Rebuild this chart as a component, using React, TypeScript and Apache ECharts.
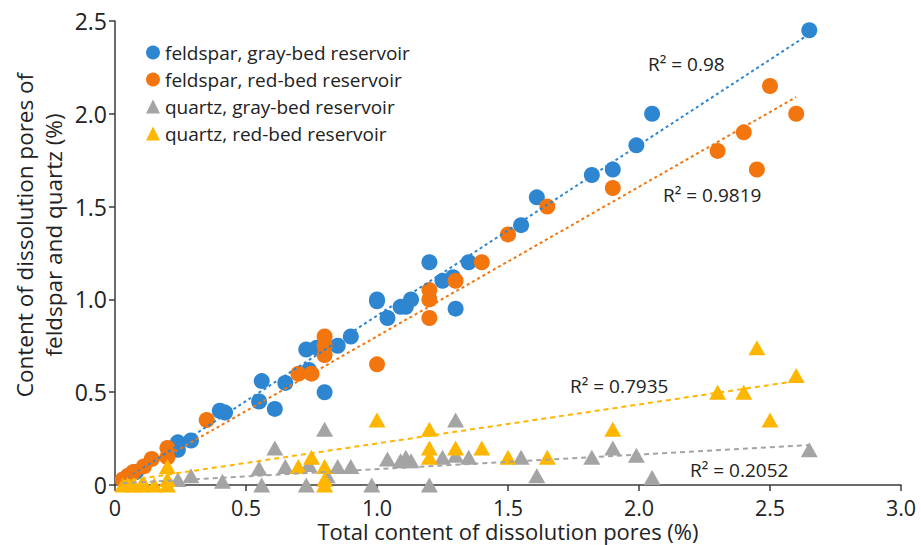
import React, { useEffect, useRef } from "react";
import * as echarts from "echarts";

const FONT = "'Open Sans', 'Noto Sans', sans-serif";

const seriesNames = [
  "feldspar, gray-bed reservoir",
  "feldspar, red-bed reservoir",
  "quartz, gray-bed reservoir",
  "quartz, red-bed reservoir",
];

const feldsparGray: number[][] = [
  [0.05, 0.04], [0.08, 0.07], [0.24, 0.19], [0.24, 0.23], [0.29, 0.24], [0.40, 0.40],
  [0.42, 0.39], [0.55, 0.45], [0.56, 0.56], [0.61, 0.41], [0.65, 0.55], [0.73, 0.73],
  [0.74, 0.62], [0.77, 0.74], [0.80, 0.50], [0.85, 0.75], [0.90, 0.80], [1.00, 1.00],
  [1.00, 0.99], [1.04, 0.90], [1.09, 0.96], [1.11, 0.96], [1.13, 1.00], [1.20, 1.20],
  [1.25, 1.10], [1.29, 1.12], [1.30, 0.95], [1.35, 1.20], [1.55, 1.40], [1.61, 1.55],
  [1.82, 1.67], [1.90, 1.70], [1.99, 1.83], [2.05, 2.00], [2.65, 2.45],
];

const feldsparRed: number[][] = [
  [0.03, 0.03], [0.05, 0.05], [0.07, 0.07], [0.11, 0.10], [0.14, 0.14], [0.20, 0.15],
  [0.20, 0.20], [0.35, 0.35], [0.70, 0.60], [0.75, 0.60], [0.80, 0.70], [0.80, 0.75],
  [0.80, 0.80], [1.00, 0.65], [1.20, 0.90], [1.20, 1.00], [1.20, 1.05], [1.30, 1.10],
  [1.40, 1.20], [1.50, 1.35], [1.65, 1.50], [1.90, 1.60], [2.30, 1.80], [2.40, 1.90],
  [2.45, 1.70], [2.50, 2.15], [2.60, 2.00],
];

const quartzGray: number[][] = [
  [0.24, 0.03], [0.29, 0.05], [0.41, 0.02], [0.55, 0.09], [0.56, 0.00], [0.61, 0.20],
  [0.65, 0.10], [0.73, 0.00], [0.74, 0.11], [0.80, 0.30], [0.81, 0.05], [0.85, 0.10],
  [0.90, 0.10], [0.98, 0.00], [1.04, 0.14], [1.09, 0.13], [1.11, 0.15], [1.13, 0.13],
  [1.20, 0.00], [1.25, 0.15], [1.30, 0.16], [1.30, 0.35], [1.35, 0.15], [1.55, 0.15],
  [1.61, 0.05], [1.82, 0.15], [1.90, 0.20], [1.99, 0.16], [2.05, 0.04], [2.65, 0.19],
];

const quartzRed: number[][] = [
  [0.03, 0.00], [0.05, 0.01], [0.07, 0.00], [0.10, 0.00], [0.11, 0.01], [0.15, 0.00],
  [0.20, 0.00], [0.20, 0.03], [0.20, 0.10], [0.70, 0.10], [0.75, 0.15], [0.80, 0.00],
  [0.80, 0.03], [0.80, 0.10], [1.00, 0.35], [1.20, 0.15], [1.20, 0.20], [1.20, 0.30],
  [1.30, 0.20], [1.40, 0.20], [1.50, 0.15], [1.65, 0.15], [1.90, 0.30], [2.30, 0.50],
  [2.40, 0.50], [2.45, 0.74], [2.50, 0.35], [2.60, 0.59],
];

// Trend-line end points
const feldsparGrayTrend: number[][] = [[0.03, 0.02], [2.65, 2.43]];
const feldsparRedTrend: number[][] = [[0.03, 0.02], [2.60, 2.09]];
const quartzGrayTrend: number[][] = [[0.03, 0.01], [2.65, 0.215]];
const quartzRedTrend: number[][] = [[0.03, 0.02], [2.60, 0.56]];

const r2Labels = ["R² = 0.98", "R² = 0.9819", "R² = 0.7935", "R² = 0.2052"];

const xTicks = [0, 0.5, 1.0, 1.5, 2.0, 2.5, 3.0];
const yTicks = [0, 0.5, 1.0, 1.5, 2.0, 2.5];

const COLORS = ["#2E86D1", "#F2750E", "#A4A4A4", "#FFB600"];

const fmt = (v: number) => (v === 0 ? "0" : v.toFixed(1));

export default function App() {
  const ref = useRef<HTMLDivElement>(null);
  useEffect(() => {
    if (!ref.current) return;
    const chart = echarts.init(ref.current, undefined, { renderer: "svg" });
    const axisColor = "#3a3a3a";
    const trend = (name: string, data: number[][], color: string, dash: number[]) => ({
      name,
      type: "line",
      data,
      symbol: "none",
      showSymbol: false,
      silent: true,
      z: 5,
      lineStyle: { color, width: 2, type: dash },
    });
    const option: any = {
      animation: false,
      backgroundColor: "#ffffff",
      grid: { left: 115, right: 20, top: 21, bottom: 60 },
      xAxis: {
        type: "value",
        min: xTicks[0],
        max: xTicks[xTicks.length - 1],
        interval: 0.5,
        axisLine: { show: true, lineStyle: { color: axisColor, width: 1.5 } },
        axisTick: { show: true, length: 6, lineStyle: { color: axisColor, width: 1.5 } },
        axisLabel: { fontSize: 21.5, lineHeight: 20, color: "#222", fontFamily: FONT, margin: 12, formatter: fmt },
        splitLine: { show: false },
      },
      yAxis: {
        type: "value",
        min: yTicks[0],
        max: yTicks[yTicks.length - 1],
        interval: 0.5,
        axisLine: { show: true, lineStyle: { color: axisColor, width: 1.5 } },
        axisTick: { show: true, length: 6, lineStyle: { color: axisColor, width: 1.5 } },
        axisLabel: { fontSize: 23, color: "#222", fontFamily: FONT, margin: 8, formatter: fmt },
        splitLine: { show: false },
      },
      legend: {
        data: seriesNames,
        orient: "vertical",
        left: 141,
        top: 38,
        itemWidth: 14,
        itemHeight: 14,
        itemGap: 8,
        itemTextGap: 6,
        textStyle: { fontSize: 19, color: "#222", fontFamily: FONT },
      },
      series: [
        { name: seriesNames[0], type: "scatter", data: feldsparGray, symbol: "circle", symbolSize: 16, itemStyle: { color: COLORS[0], opacity: 1 }, z: 2 },
        { name: seriesNames[1], type: "scatter", data: feldsparRed, symbol: "circle", symbolSize: 16, itemStyle: { color: COLORS[1], opacity: 1 }, z: 2 },
        { name: seriesNames[2], type: "scatter", data: quartzGray, symbol: "triangle", symbolSize: [17, 15], itemStyle: { color: COLORS[2], opacity: 1 }, z: 2 },
        { name: seriesNames[3], type: "scatter", data: quartzRed, symbol: "triangle", symbolSize: [17, 15], itemStyle: { color: COLORS[3], opacity: 1 }, z: 2 },
        trend("t0", feldsparGrayTrend, COLORS[0], [3, 3]),
        trend("t1", feldsparRedTrend, COLORS[1], [3, 3]),
        trend("t2", quartzGrayTrend, COLORS[2], [5, 4]),
        trend("t3", quartzRedTrend, COLORS[3], [5, 4]),
      ],
      graphic: [
        { type: "text", left: 648, top: 54, style: { text: r2Labels[0], fontSize: 19, fill: "#222", fontFamily: FONT } },
        { type: "text", left: 663, top: 185, style: { text: r2Labels[1], fontSize: 19, fill: "#222", fontFamily: FONT } },
        { type: "text", left: 570, top: 376, style: { text: r2Labels[2], fontSize: 19, fill: "#222", fontFamily: FONT } },
        { type: "text", left: 690, top: 460, style: { text: r2Labels[3], fontSize: 19, fill: "#222", fontFamily: FONT } },
        {
          type: "text", x: 508, y: 531,
          style: { text: "Total content of dissolution pores (%)", fontSize: 22, lineHeight: 22, fill: "#222", fontFamily: FONT, align: "center", verticalAlign: "middle" },
        },
        {
          type: "text", x: 24, y: 235, rotation: Math.PI / 2,
          style: { text: "Content of dissolution pores of", fontSize: 22.5, fill: "#222", fontFamily: FONT, align: "center", verticalAlign: "middle" },
        },
        {
          type: "text", x: 53, y: 235, rotation: Math.PI / 2,
          style: { text: "feldspar and quartz (%)", fontSize: 22.5, fill: "#222", fontFamily: FONT, align: "center", verticalAlign: "middle" },
        },
      ],
    };
    chart.setOption(option);
    return () => chart.dispose();
  }, []);
  return (
    <div
      ref={ref}
      style={{ position: "fixed", left: 0, top: 0, width: 921, height: 545, background: "#fff" }}
    />
  );
}
